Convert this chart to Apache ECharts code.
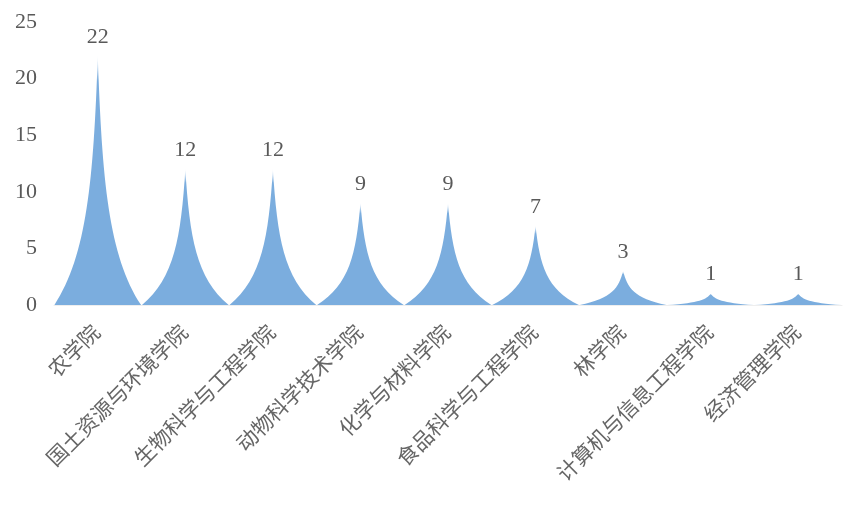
<!DOCTYPE html>
<html><head><meta charset="utf-8">
<script src="https://cdn.jsdelivr.net/npm/echarts@6/dist/echarts.min.js"></script>
<style>html,body{margin:0;padding:0;background:#fff}#c{width:866px;height:507px}</style>
</head><body><div id="c"></div>
<script>
var categories = ['农学院','国土资源与环境学院','生物科学与工程学院','动物科学技术学院','化学与材料学院','食品科学与工程学院','林学院','计算机与信息工程学院','经济管理学院'];
var values = [22, 12, 12, 9, 9, 7, 3, 1, 1];
var yTicks = {min: 0, max: 25, interval: 5};

var fontFamily = '"Times New Roman","Liberation Serif","Noto Sans CJK SC",serif';
var chart = echarts.init(document.getElementById('c'), null, {renderer: 'canvas'});
chart.setOption({
  animation: false,
  grid: {left: 54, right: 24, top: 22, bottom: 202, containLabel: false},
  xAxis: {
    type: 'category', data: categories,
    axisLine: {show: true, lineStyle: {color: '#eeeeee', width: 1}},
    axisTick: {show: false},
    axisLabel: {rotate: 45, interval: 0, margin: 25, color: '#666666', fontSize: 21, fontFamily: fontFamily}
  },
  yAxis: {
    type: 'value', min: yTicks.min, max: yTicks.max, interval: yTicks.interval,
    axisLine: {show: false}, axisTick: {show: false}, splitLine: {show: false},
    axisLabel: {margin: 17, color: '#595959', fontSize: 22, fontFamily: fontFamily}
  },
  series: [{
    type: 'pictorialBar',
    data: values,
    barCategoryGap: '0%',
    symbol: 'path://M0,100 C37.5,80 45,50 50,0 C55,50 62.5,80 100,100 Z',
    symbolSize: ['99%', '100%'],
    itemStyle: {
      color: {type: 'linear', x: 0, y: 0, x2: 0, y2: 1, colorStops: [
        {offset: 0, color: 'rgba(123,173,222,0.05)'},
        {offset: 0.1, color: 'rgba(123,173,222,1)'},
        {offset: 1, color: 'rgba(123,173,222,1)'}
      ]}
    },
    label: {show: true, position: 'top', distance: 8, color: '#595959', fontSize: 22, fontFamily: fontFamily}
  }]
});
</script></body></html>
